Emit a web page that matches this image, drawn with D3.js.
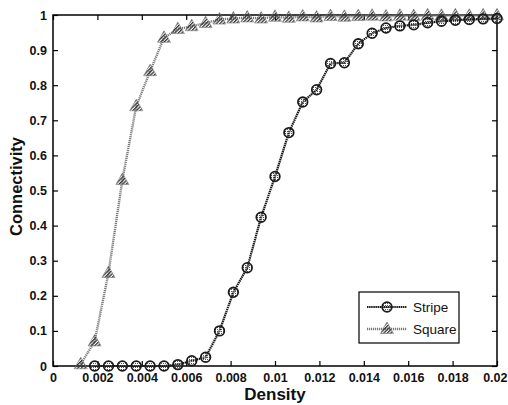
<!DOCTYPE html>
<html>
<head>
<meta charset="utf-8">
<script src="https://cdn.jsdelivr.net/npm/d3@7"></script>
<style>
  body { margin: 0; background: #fff; }
  text { font-family: "Liberation Sans", Arial, sans-serif; }
</style>
</head>
<body>
<script>
// density values on the x axis (shared grid)
const density = [0.00125, 0.001875, 0.0025, 0.003125, 0.00375, 0.004375, 0.005, 0.005625,
    0.00625, 0.006875, 0.0075, 0.008125, 0.00875, 0.009375, 0.01, 0.010625, 0.01125,
    0.011875, 0.0125, 0.013125, 0.01375, 0.014375, 0.015, 0.015625, 0.01625, 0.016875,
    0.0175, 0.018125, 0.01875, 0.019375, 0.02];

// stripe starts at the second grid point
const stripe = [null, 0, 0, 0, 0, 0, 0, 0.004, 0.015, 0.025, 0.1, 0.21, 0.28, 0.424, 0.54,
    0.665, 0.752, 0.787, 0.862, 0.864, 0.918, 0.948, 0.963, 0.969, 0.972, 0.978, 0.982,
    0.985, 0.987, 0.989, 0.99];

const square = [0.005, 0.07, 0.265, 0.53, 0.74, 0.84, 0.935, 0.96, 0.968, 0.977, 0.987,
    0.99, 0.993, 0.99, 0.995, 0.992, 0.996, 0.993, 0.997, 0.995, 0.997, 0.998, 0.996,
    0.998, 0.997, 0.999, 0.998, 0.999, 0.998, 0.999, 0.999];

const xTicks = [0, 0.002, 0.004, 0.006, 0.008, 0.01, 0.012, 0.014, 0.016, 0.018, 0.02];
const yTicks = [0, 0.1, 0.2, 0.3, 0.4, 0.5, 0.6, 0.7, 0.8, 0.9, 1];

const margin = {top: 15, right: 11, bottom: 39, left: 53};
const width = 508 - margin.left - margin.right, height = 405 - margin.top - margin.bottom;

const root = d3.select('body').append('svg')
    .attr('width', 508)
    .attr('height', 405);

// hatch patterns to mimic the scanned marker fill
const defs = root.append('defs');
defs.append('pattern')
    .attr('id', 'hatch')
    .attr('patternUnits', 'userSpaceOnUse')
    .attr('width', 2.5).attr('height', 2.5)
    .attr('patternTransform', 'rotate(45)')
    .append('rect')
    .attr('width', 1.3).attr('height', 2.5)
    .attr('fill', '#333');
defs.append('pattern')
    .attr('id', 'dots')
    .attr('patternUnits', 'userSpaceOnUse')
    .attr('width', 2).attr('height', 2)
    .append('rect')
    .attr('width', 1).attr('height', 1)
    .attr('fill', '#555');

const svg = root.append('g')
    .attr('transform', `translate(${margin.left}, ${margin.top})`);

const xScale = d3.scaleLinear().domain([0, 0.02]).range([0, width]);
const yScale = d3.scaleLinear().domain([0, 1]).range([height, 0]);

const fmt = d => d === 0 ? '0' : d3.format('~g')(d);

// axes with inward ticks, on all four sides
const tickStyle = g => {
    g.select('.domain').remove();
    g.selectAll('.tick line').attr('stroke', '#000').attr('stroke-width', 1.2);
    g.selectAll('.tick text')
        .attr('font-size', 12.5)
        .attr('font-weight', 'bold')
        .attr('fill', '#111');
};

const xAxisG = svg.append('g')
    .attr('transform', `translate(0, ${height})`)
    .call(d3.axisBottom(xScale).tickValues(xTicks).tickFormat(fmt).tickSizeInner(-5).tickSizeOuter(0).tickPadding(7))
    .call(tickStyle);
// keep the last label inside the window
xAxisG.selectAll('.tick text')
    .filter(d => d === 0.02)
    .attr('text-anchor', 'end')
    .attr('x', 10);

svg.append('g')
    .call(d3.axisTop(xScale).tickValues(xTicks).tickFormat('').tickSizeInner(-5).tickSizeOuter(0))
    .call(tickStyle);
svg.append('g')
    .call(d3.axisLeft(yScale).tickValues(yTicks).tickFormat(fmt).tickSizeInner(-5).tickSizeOuter(0).tickPadding(6))
    .call(tickStyle);
svg.append('g')
    .attr('transform', `translate(${width}, 0)`)
    .call(d3.axisRight(yScale).tickValues(yTicks).tickFormat('').tickSizeInner(-5).tickSizeOuter(0))
    .call(tickStyle);

svg.append('rect')
    .attr('width', width).attr('height', height)
    .attr('fill', 'none')
    .attr('stroke', '#000')
    .attr('stroke-width', 1.5);

// series
const squarePts = density.map((d, i) => ({x: d, y: square[i]}));
const stripePts = density.map((d, i) => ({x: d, y: stripe[i]})).filter(d => d.y !== null);

const line = d3.line().x(d => xScale(d.x)).y(d => yScale(d.y));

const triPath = 'M0,-7L6.5,4.5L-6.5,4.5Z';

svg.append('path')
    .datum(squarePts)
    .attr('d', line)
    .attr('fill', 'none')
    .attr('stroke', '#7a7a7a')
    .attr('stroke-width', 2.4)
    .attr('stroke-dasharray', '1.2,0.8');

svg.selectAll('.tri')
    .data(squarePts)
    .enter()
    .append('path')
    .attr('class', 'tri')
    .attr('d', triPath)
    .attr('transform', d => `translate(${xScale(d.x)}, ${yScale(d.y)})`)
    .attr('fill', 'url(#hatch)')
    .attr('stroke', '#777')
    .attr('stroke-width', 0.6);

svg.append('path')
    .datum(stripePts)
    .attr('d', line)
    .attr('fill', 'none')
    .attr('stroke', '#1a1a1a')
    .attr('stroke-width', 2.2)
    .attr('stroke-dasharray', '1.5,0.6');

svg.selectAll('.circ')
    .data(stripePts)
    .enter()
    .append('circle')
    .attr('class', 'circ')
    .attr('cx', d => xScale(d.x))
    .attr('cy', d => yScale(d.y))
    .attr('r', 4.8)
    .attr('fill', 'url(#dots)')
    .attr('stroke', '#1a1a1a')
    .attr('stroke-width', 1.8);

// axis titles
svg.append('text')
    .attr('x', width / 2)
    .attr('y', height + 34)
    .attr('text-anchor', 'middle')
    .attr('font-size', 17)
    .attr('font-weight', 'bold')
    .attr('fill', '#111')
    .text('Density');

svg.append('text')
    .attr('transform', `translate(${-31}, ${height / 2 - 4}) rotate(-90)`)
    .attr('text-anchor', 'middle')
    .attr('font-size', 16.5)
    .attr('font-weight', 'bold')
    .attr('fill', '#111')
    .text('Connectivity');

// legend
const legend = svg.append('g').attr('transform', `translate(${306}, ${277})`);
legend.append('rect')
    .attr('width', 100).attr('height', 51)
    .attr('fill', '#fff')
    .attr('stroke', '#000')
    .attr('stroke-width', 1.2);

const legendItems = [
    {name: 'Stripe', y: 15},
    {name: 'Square', y: 37}
];

legendItems.forEach(item => {
    const g = legend.append('g').attr('transform', `translate(0, ${item.y})`);
    if (item.name === 'Stripe') {
        g.append('line').attr('x1', 8).attr('x2', 48)
            .attr('stroke', '#1a1a1a').attr('stroke-width', 2.2).attr('stroke-dasharray', '1.5,0.6');
        g.append('circle').attr('cx', 28).attr('r', 4.8)
            .attr('fill', 'url(#dots)').attr('stroke', '#1a1a1a').attr('stroke-width', 1.8);
    } else {
        g.append('line').attr('x1', 8).attr('x2', 48)
            .attr('stroke', '#7a7a7a').attr('stroke-width', 2.4).attr('stroke-dasharray', '1.2,0.8');
        g.append('path').attr('d', triPath).attr('transform', 'translate(28, 0)')
            .attr('fill', 'url(#hatch)').attr('stroke', '#777').attr('stroke-width', 0.6);
    }
    g.append('text')
        .attr('x', 54)
        .attr('dy', '0.35em')
        .attr('font-size', 13.5)
        .attr('fill', '#111')
        .text(item.name);
});
</script>
</body>
</html>
